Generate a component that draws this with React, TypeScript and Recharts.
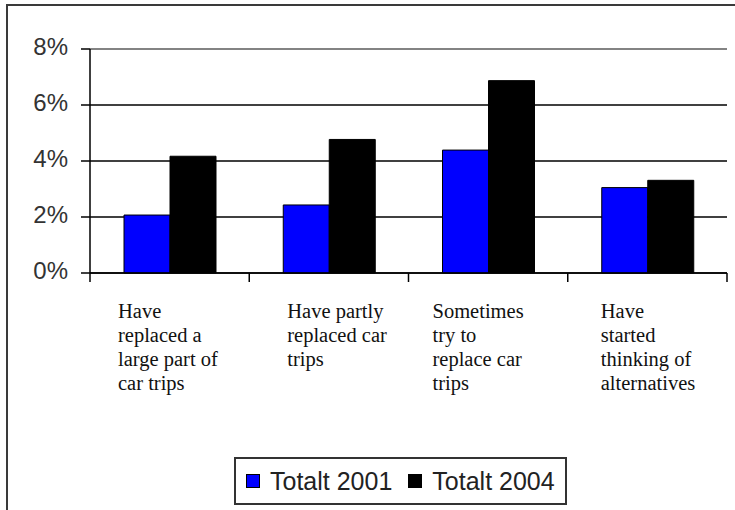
import React from 'react';
import { BarChart, Bar, XAxis, YAxis, CartesianGrid, ReferenceLine, Legend } from 'recharts';

// Share of respondents per mobility step, 2001 vs 2004 (percent)
const categories = [
  'Have\nreplaced a\nlarge part of\ncar trips',
  'Have partly\nreplaced car\ntrips',
  'Sometimes\ntry to\nreplace car\ntrips',
  'Have\nstarted\nthinking of\nalternatives',
];
const totalt2001 = [2.07, 2.43, 4.39, 3.05];
const totalt2004 = [4.17, 4.77, 6.87, 3.31];
const yTicks = [0, 2, 4, 6, 8];
const seriesNames = ['Totalt 2001', 'Totalt 2004'];

const data = categories.map((name, i) => ({
  name,
  t2001: totalt2001[i],
  t2004: totalt2004[i],
}));

// text boxes under the axis sit a little irregularly inside each category
const labelIndent = [28, 38, 24, 33];

const SANS = '"Liberation Sans", Arial, Helvetica, sans-serif';
const SERIF = '"Liberation Serif", "Times New Roman", Times, serif';

const W = 735;
const H = 510;

function CategoryTick(props: any) {
  const { x, y, payload, index } = props;
  const half = payload?.offset ?? 79.6;
  const left = x - half;
  const lines = String(payload.value).split('\n');
  return (
    <g>
      <line x1={left} y1={y} x2={left} y2={y + 9} stroke="#000" strokeWidth={1.5} />
      {index === categories.length - 1 && (
        <line x1={x + half} y1={y} x2={x + half} y2={y + 9} stroke="#000" strokeWidth={1.5} />
      )}
      <text x={left + labelIndent[index]} y={y + 45} fontFamily={SERIF} fontSize={20.5} fill="#111">
        {lines.map((ln, i) => (
          <tspan key={i} x={left + labelIndent[index]} dy={i === 0 ? 0 : 24}>
            {ln}
          </tspan>
        ))}
      </text>
    </g>
  );
}

function LegendBox() {
  const swatch = (color: string) => (
    <span
      style={{
        display: 'inline-block',
        width: 14,
        height: 14,
        background: color,
        border: '1px solid #000',
        boxSizing: 'border-box',
        marginRight: 10,
      }}
    />
  );
  return (
    <div
      style={{
        display: 'flex',
        alignItems: 'center',
        height: 48,
        boxSizing: 'border-box',
        border: '2px solid #333',
        padding: '0 10px 0 10px',
        fontFamily: SANS,
        fontSize: 25,
        color: '#222',
        background: '#fff',
        whiteSpace: 'nowrap',
      }}
    >
      {swatch('#0000ff')}
      <span style={{ marginRight: 16 }}>{seriesNames[0]}</span>
      {swatch('#000000')}
      <span>{seriesNames[1]}</span>
    </div>
  );
}

export default function App() {
  return (
    <div
      style={{
        position: 'fixed',
        left: 0,
        top: 0,
        width: W,
        height: H,
        overflow: 'hidden',
        background: '#fff',
      }}
    >
      {/* outer frame, its right and bottom edges run off the page */}
      <div
        style={{
          position: 'absolute',
          left: 6,
          top: 4,
          width: W + 20,
          height: H + 20,
          border: '2px solid #3a3a3a',
          boxSizing: 'border-box',
        }}
      />
      <div style={{ position: 'absolute', left: 0, top: 0 }}>
        <BarChart
          width={W}
          height={H}
          data={data}
          margin={{ top: 49, right: 8, left: 0, bottom: 37 }}
          barGap={0}
          barSize={46}
        >
          <CartesianGrid vertical={false} stroke="#000" strokeWidth={1.5} />
          <ReferenceLine y={8} stroke="#9a9a9a" strokeWidth={1.5} />
          <XAxis
            dataKey="name"
            height={200}
            axisLine={{ stroke: '#000', strokeWidth: 1.5 }}
            tickLine={false}
            tickSize={0}
            tickMargin={0}
            interval={0}
            tick={<CategoryTick />}
          />
          <YAxis
            width={90}
            domain={[0, 8]}
            ticks={yTicks}
            interval={0}
            tickFormatter={(v: number) => `${v}%`}
            axisLine={{ stroke: '#000', strokeWidth: 1.5 }}
            tickLine={{ stroke: '#000', strokeWidth: 1.5 }}
            tickSize={9}
            tickMargin={13}
            tick={{ fill: '#333', fontSize: 24, fontFamily: SANS, dy: -3 }}
          />
          <YAxis
            yAxisId="frame"
            orientation="right"
            width={0}
            domain={[0, 8]}
            tick={false}
            tickLine={false}
            axisLine={{ stroke: '#9a9a9a', strokeWidth: 1.5 }}
          />
          <Bar dataKey="t2001" name={seriesNames[0]} fill="#0000ff" stroke="#000" strokeWidth={1} isAnimationActive={false} />
          <Bar dataKey="t2004" name={seriesNames[1]} fill="#000000" stroke="#000" strokeWidth={1} isAnimationActive={false} />
          <Legend
            layout="horizontal"
            verticalAlign="middle"
            align="center"
            wrapperStyle={{ left: 234, top: 457, width: 'auto' }}
            content={() => <LegendBox />}
          />
        </BarChart>
      </div>
    </div>
  );
}
